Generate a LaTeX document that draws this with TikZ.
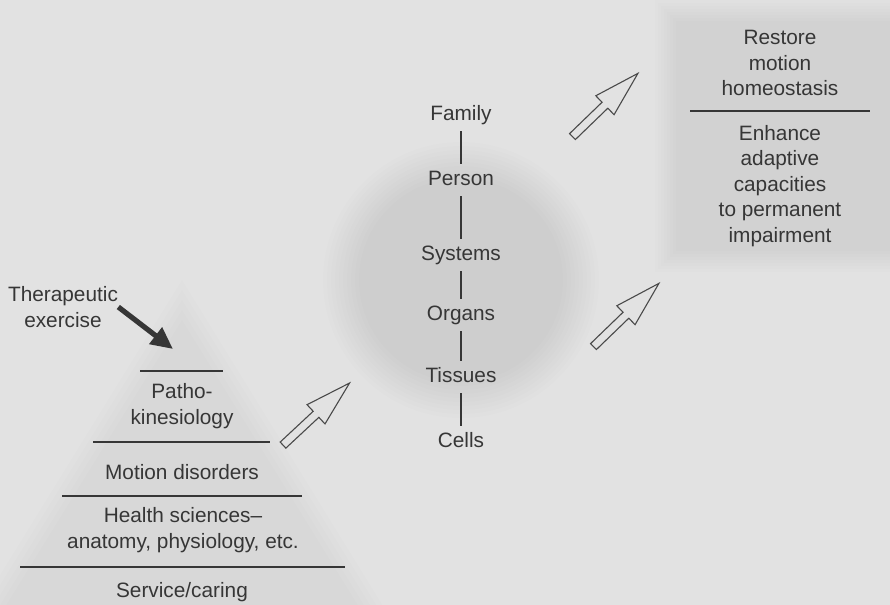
\documentclass[tikz,border=0pt]{standalone}
\usepackage{fontspec}
\setmainfont{Liberation Sans}
\usetikzlibrary{arrows.meta,shapes.arrows}
\definecolor{paper}{HTML}{E2E2E2}
\definecolor{ink}{HTML}{363636}
\definecolor{rim}{HTML}{4A4A4A}
\tikzset{
  every node/.style={font=\fontsize{10.4}{12.75}\selectfont,text=ink},
  txt/.style={align=center,inner sep=0},
  level/.style={inner xsep=1pt,inner ysep=3pt,text height=7.5pt,text depth=2.2pt},
  link/.style={draw=ink,line width=.7pt},
  divider/.style={draw=ink,line width=.8pt},
  push/.style={-{Triangle[length=11pt,width=10pt]},line width=2.6pt,draw=ink},
  hollow/.style={single arrow,draw=rim,line width=.55pt,minimum height=45.5pt,
    single arrow head extend=4.5pt,single arrow tip angle=32,inner xsep=0pt,inner ysep=1.8pt},
  haze/.style={fill=black,fill opacity=#1}
}
\begin{document}
\begin{tikzpicture}[x=.5pt,y=-.5pt]
\fill[paper] (0,0) rectangle (890,605);
\path[use as bounding box] (0,0) rectangle (890,605);
% soft grey pyramid, disc and box
\begin{scope}
\clip (0,0) rectangle (890,605);
\foreach \k in {1,.95,.9,.85,.8}
  \fill[haze=.008,scale around={\k:(182,480)}] (182,280) -- (-40,640) -- (404,640) -- cycle;
\foreach \r in {102,106,...,138}
  \fill[haze=.0092] (461,280) circle (\r);
\foreach \d in {0,3,...,21}
  \fill[haze=.0085] (655+\d,\d) rectangle (900,272-\d);
\end{scope}
% pyramid
\node[txt] (exercise) at (63,307) {Therapeutic\\exercise};
\coordinate (top) at (173,349);
\draw[push] (exercise.east) -- (top);
\draw[divider] (140,371) -- (223,371);
\node[txt] (patho) at (182,406) {Patho-\\kinesiology};
\draw[divider] (93,442) -- (270,442);
\node[txt] (motion) at (182,472) {Motion disorders};
\draw[divider] (62,496) -- (302,496);
\node[txt] (health) at (183,530) {Health sciences–\\anatomy, physiology, etc.};
\draw[divider] (20,567) -- (345,567);
\node[txt] (service) at (182,592) {Service/caring};
% levels
\node[level] (family) at (461,115) {Family};
\node[level] (person) at (461,180) {Person};
\node[level] (systems) at (461,255) {Systems};
\node[level] (organs) at (461,315) {Organs};
\node[level] (tissues) at (461,377) {Tissues};
\node[level] (cells) at (461,442) {Cells};
\foreach \a/\b in {family/person,person/systems,systems/organs,organs/tissues,tissues/cells}
  \draw[link] (\a) -- (\b);
% goals
\node[txt] (restore) at (780,63) {Restore\\motion\\homeostasis};
\draw[divider] (690,111) -- (870,111);
\node[txt] (enhance) at (780,186) {Enhance\\adaptive\\capacities\\to permanent\\impairment};
% open arrows
\node[hollow,rotate=43] (upA) at (311,419) {};
\node[hollow,rotate=44] (upB) at (600,110) {};
\node[hollow,rotate=44] (upC) at (621,320) {};
\end{tikzpicture}
\end{document}
